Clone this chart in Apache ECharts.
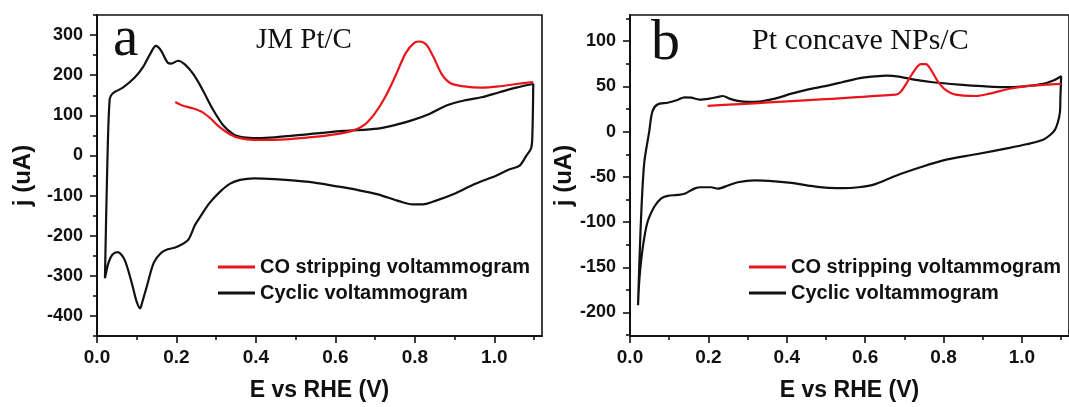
<!DOCTYPE html>
<html>
<head>
<meta charset="utf-8">
<script src="https://cdn.jsdelivr.net/npm/echarts@6/dist/echarts.min.js"></script>
<style>
  html, body { margin: 0; padding: 0; background: #fff; }
  #chart { width: 1069px; height: 407px; }
</style>
</head>
<body>
<div id="chart"></div>
<script>
// Panel a: JM Pt/C — cyclic voltammogram (anodic then cathodic sweep)
const cvA_E = [0.020, 0.026, 0.032, 0.040, 0.065, 0.095, 0.117, 0.135, 0.148, 0.160, 0.178, 0.187, 0.204, 0.221, 0.243, 0.265, 0.291, 0.317, 0.343, 0.369, 0.404, 0.447, 0.534, 0.621, 0.707, 0.751, 0.794, 0.838, 0.881, 0.924, 0.968, 1.011, 1.055, 1.098,
               1.096, 1.093, 1.081, 1.063, 1.037, 1.003, 0.951, 0.898, 0.855, 0.820, 0.794, 0.760, 0.707, 0.655, 0.603, 0.534, 0.447, 0.395, 0.360, 0.334, 0.308, 0.282, 0.265, 0.247, 0.230, 0.213, 0.195, 0.178, 0.161, 0.143, 0.126, 0.113, 0.109, 0.100, 0.087, 0.069, 0.052, 0.039, 0.029, 0.020];
const cvA_j = [-306, -22, 141, 155, 169, 194, 222, 255, 273, 263, 231, 229, 236, 227, 202, 165, 116, 76, 53, 45, 43, 45, 53, 61, 67, 76, 88, 104, 125, 137, 145, 157, 169, 178,
               60, 19, 0, -26, -35, -51, -71, -96, -112, -122, -122, -114, -97, -86, -77, -66, -59, -57, -61, -71, -92, -120, -145, -173, -210, -222, -230, -234, -243, -267, -324, -369, -381, -365, -316, -259, -241, -247, -267, -306];
// Panel a: CO stripping voltammogram
const coA_E = [0.197, 0.213, 0.239, 0.265, 0.286, 0.308, 0.334, 0.360, 0.395, 0.447, 0.534, 0.603, 0.647, 0.673, 0.699, 0.725, 0.751, 0.777, 0.799, 0.812, 0.829, 0.846, 0.868, 0.890, 0.924, 0.968, 1.011, 1.055, 1.098];
const coA_j = [133, 125, 118, 108, 92, 71, 53, 43, 39, 39, 45, 53, 63, 76, 104, 145, 198, 255, 281, 284, 276, 247, 202, 180, 172, 169, 172, 178, 183];

// Panel b: Pt concave NPs/C — cyclic voltammogram
const cvB_E = [0.0205, 0.027, 0.036, 0.049, 0.057, 0.070, 0.096, 0.121, 0.139, 0.156, 0.177, 0.203, 0.220, 0.237, 0.254, 0.275, 0.301, 0.335, 0.370, 0.412, 0.455, 0.498, 0.541, 0.583, 0.626, 0.656, 0.686, 0.729, 0.772, 0.840, 0.900, 0.968, 1.011, 1.054, 1.080, 1.100,
               1.098, 1.097, 1.092, 1.084, 1.071, 1.054, 1.011, 0.968, 0.883, 0.797, 0.737, 0.677, 0.626, 0.583, 0.541, 0.498, 0.455, 0.412, 0.370, 0.318, 0.275, 0.250, 0.224, 0.207, 0.181, 0.164, 0.139, 0.121, 0.096, 0.079, 0.062, 0.044, 0.032, 0.024, 0.0205];
const cvB_j = [-192, -108, -36, 0, 22, 30, 32, 35, 38, 37.6, 35.4, 36.5, 38, 39.4, 36.5, 34, 33, 33.6, 36.5, 42, 46.7, 50.3, 54.6, 59, 61.2, 62, 60.8, 57.2, 54.6, 52, 50.3, 49.2, 50.3, 52.8, 56.5, 61.2,
               36.5, 22, 11, 2, -4, -9, -14, -18, -25, -32, -40, -49, -58, -61.5, -62.5, -62, -59.6, -56.7, -55, -54, -56, -59.6, -63, -61.5, -61.5, -63, -68.7, -70, -71, -74, -83, -101, -130, -163, -192];
// Panel b: CO stripping voltammogram
const coB_E = [0.198, 0.678, 0.690, 0.707, 0.725, 0.742, 0.755, 0.767, 0.784, 0.802, 0.831, 0.883, 0.917, 0.968, 1.011, 1.054, 1.100];
const coB_j = [28.5, 40.9, 43.8, 54.6, 67.3, 74.6, 74.6, 69, 56.5, 47.4, 40.9, 39.4, 42, 47.4, 50.3, 51.7, 52.8];

// Tick values
const xMajor = [0.0, 0.2, 0.4, 0.6, 0.8, 1.0];
const xMinor = [0.1, 0.3, 0.5, 0.7, 0.9, 1.1];
const yMajorA = [-400, -300, -200, -100, 0, 100, 200, 300];
const yMinorA = [-450, -350, -250, -150, -50, 50, 150, 250, 350];
const yMajorB = [-200, -150, -100, -50, 0, 50, 100];
const yMinorB = [-225, -175, -125, -75, -25, 25, 75, 125];

const SERIES_CO = 'CO stripping voltammogram';
const SERIES_CV = 'Cyclic voltammogram';
const RED = '#e8161c';
const INK = '#111';
const SANS = '"Liberation Sans", Arial, sans-serif';
const SERIF = '"Liberation Serif", "Times New Roman", serif';

const zip = (xs, ys) => xs.map((x, i) => [x, ys[i]]);

const grids = [
  { left: 97, top: 15, width: 445, height: 327 },
  { left: 630, top: 15, width: 443, height: 326 }
];
const xRange = [[0, 1.12], [0, 1.12]];
const yRange = [[-450, 350], [-226, 129]];
const yMajor = [yMajorA, yMajorB];
const yMinor = [yMinorA, yMinorB];
const yNameGap = [62, 54];

const axisLine = { onZero: false, lineStyle: { color: INK, width: 1.6 } };
const xAxes = [], yAxes = [];
grids.forEach((g, gi) => {
  // axis carrying labels and long ticks
  xAxes.push({
    gridIndex: gi, type: 'value', position: 'bottom',
    min: xRange[gi][0], max: xRange[gi][1],
    name: 'E vs RHE (V)', nameLocation: 'middle', nameGap: 43,
    nameTextStyle: { fontFamily: SANS, fontWeight: 'bold', fontSize: 23, color: INK },
    axisLine,
    axisTick: { show: true, inside: false, length: 7, customValues: xMajor, lineStyle: { color: INK, width: 1.6 } },
    axisLabel: { customValues: xMajor, margin: 12, fontFamily: SANS, fontWeight: 'bold', fontSize: 19, color: INK,
                 formatter: v => v.toFixed(1) },
    splitLine: { show: false }
  });
  // axis carrying short ticks only
  xAxes.push({
    gridIndex: gi, type: 'value', position: 'bottom', offset: 0,
    min: xRange[gi][0], max: xRange[gi][1],
    axisLine,
    axisTick: { show: true, inside: false, length: 4, customValues: xMinor, lineStyle: { color: INK, width: 1.6 } },
    axisLabel: { show: false },
    splitLine: { show: false }
  });
  yAxes.push({
    gridIndex: gi, type: 'value', position: 'left',
    min: yRange[gi][0], max: yRange[gi][1],
    name: 'j (uA)', nameLocation: 'middle', nameGap: yNameGap[gi], nameRotate: 90,
    nameTextStyle: { fontFamily: SANS, fontWeight: 'bold', fontSize: 24, color: INK },
    axisLine,
    axisTick: { show: true, inside: false, length: 7, customValues: yMajor[gi], lineStyle: { color: INK, width: 1.6 } },
    axisLabel: { customValues: yMajor[gi], margin: 14, fontFamily: SANS, fontWeight: 'bold', fontSize: 18, color: INK },
    splitLine: { show: false }
  });
  yAxes.push({
    gridIndex: gi, type: 'value', position: 'left', offset: 0,
    min: yRange[gi][0], max: yRange[gi][1],
    axisLine,
    axisTick: { show: true, inside: false, length: 4, customValues: yMinor[gi], lineStyle: { color: INK, width: 1.6 } },
    axisLabel: { show: false },
    splitLine: { show: false }
  });
});

const lineSeries = (name, data, color, gi) => ({
  name, type: 'line', data,
  xAxisIndex: gi * 2, yAxisIndex: gi * 2,
  smooth: 0.3, showSymbol: false, symbol: 'none',
  lineStyle: { color, width: 2.2 }, itemStyle: { color },
  clip: true, animation: false
});

const legendFor = (left) => ({
  left, top: 257, orient: 'vertical', padding: 0,
  itemWidth: 37, itemHeight: 3, itemGap: 6, icon: 'rect',
  selectedMode: false,
  textStyle: { fontFamily: SANS, fontWeight: 'bold', fontSize: 20, color: INK },
  data: [
    { name: SERIES_CO, itemStyle: { color: RED } },
    { name: SERIES_CV, itemStyle: { color: INK } }
  ]
});

const chart = echarts.init(document.getElementById('chart'), null, { renderer: 'canvas' });
chart.setOption({
  backgroundColor: '#fff',
  animation: false,
  grid: grids.map(g => Object.assign({ show: true, borderColor: INK, borderWidth: 1.6, backgroundColor: 'transparent' }, g)),
  xAxis: xAxes,
  yAxis: yAxes,
  legend: [legendFor(218), legendFor(749)],
  series: [
    lineSeries(SERIES_CV, zip(cvA_E, cvA_j), INK, 0),
    lineSeries(SERIES_CO, zip(coA_E, coA_j), RED, 0),
    lineSeries(SERIES_CV, zip(cvB_E, cvB_j), INK, 1),
    lineSeries(SERIES_CO, zip(coB_E, coB_j), RED, 1)
  ],
  graphic: [
    { type: 'text', left: 113, top: 12, style: { text: 'a', font: '57px ' + SERIF, fill: INK } },
    { type: 'text', left: 256, top: 26, style: { text: 'JM Pt/C', font: '29px ' + SERIF, fill: INK } },
    { type: 'text', left: 651, top: 15, style: { text: 'b', font: '58px ' + SERIF, fill: INK } },
    { type: 'text', left: 752, top: 26, style: { text: 'Pt concave NPs/C', font: '30px ' + SERIF, fill: INK } }
  ]
});
</script>
</body>
</html>
